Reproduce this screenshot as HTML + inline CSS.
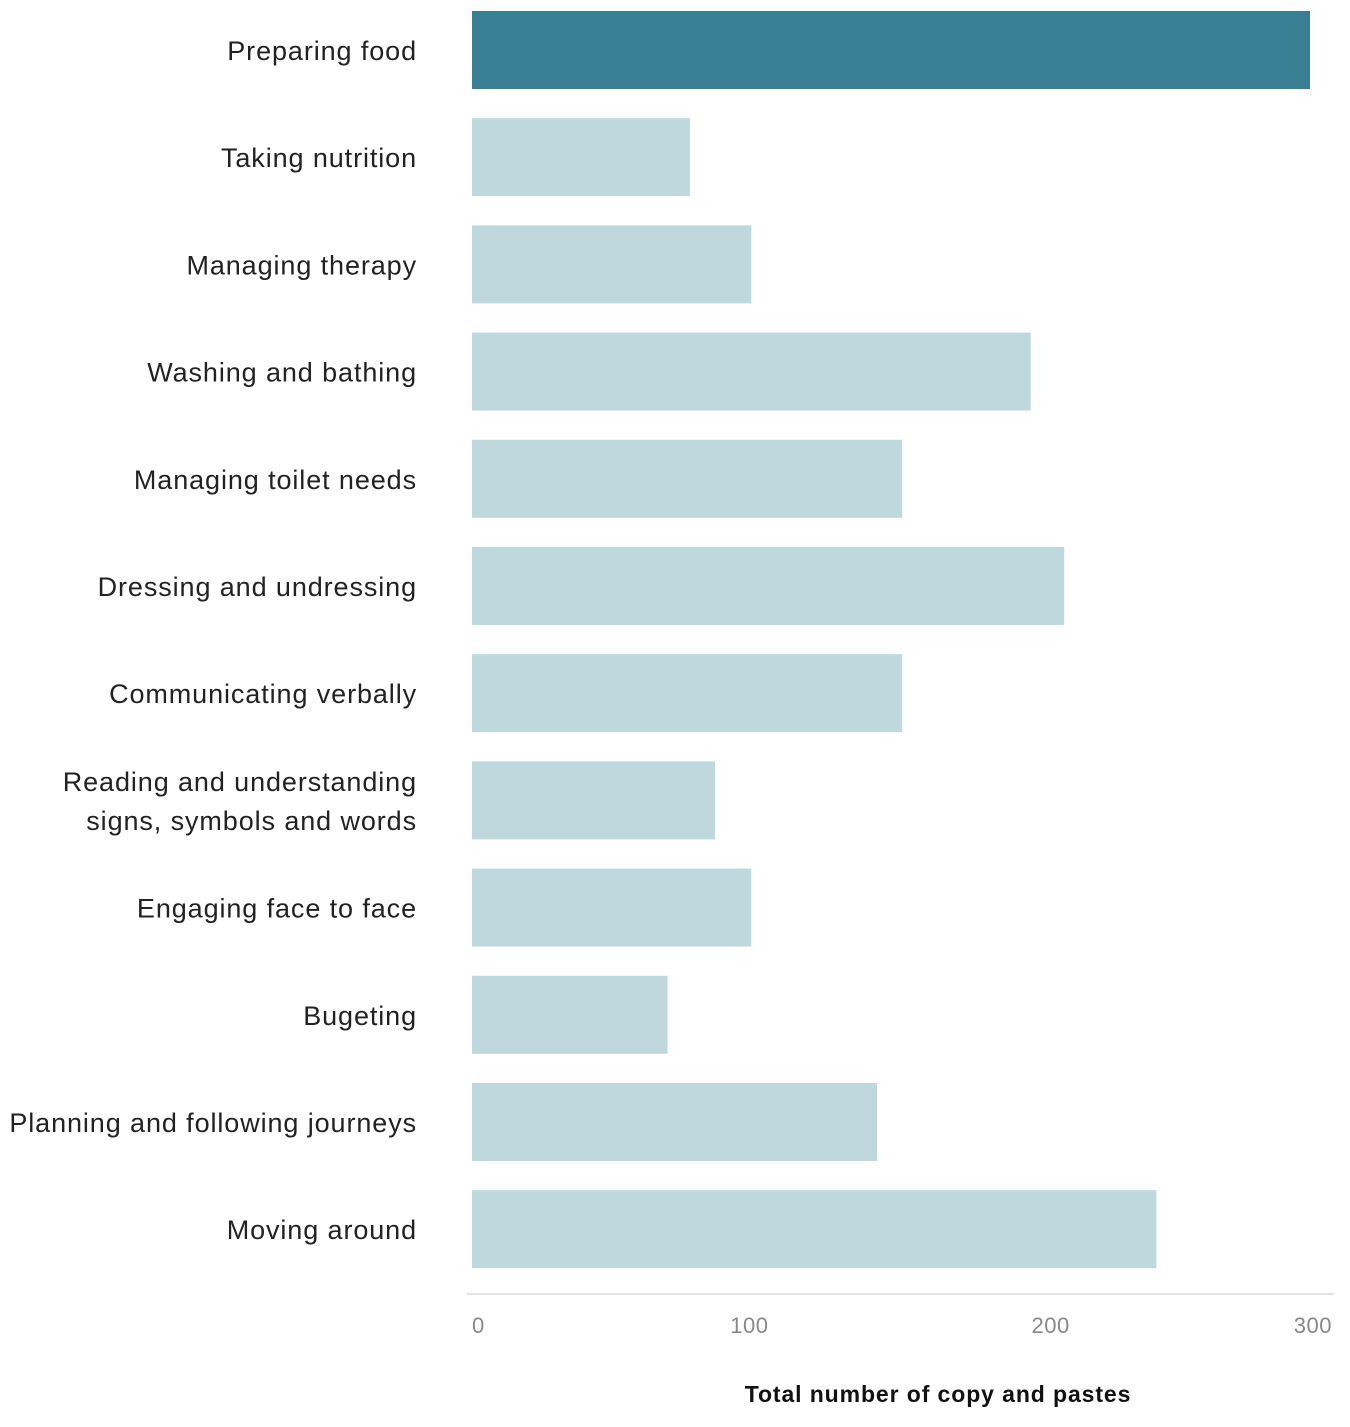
<!DOCTYPE html>
<html><head><meta charset="utf-8"><style>
body{margin:0;background:#fff;font-family:"Liberation Sans",sans-serif}
svg text{font-family:"Liberation Sans",sans-serif}
</style></head><body>
<svg id="chart" width="1350" height="1422" xmlns="http://www.w3.org/2000/svg"></svg>
<script>
const categories=["Preparing food","Taking nutrition","Managing therapy","Washing and bathing","Managing toilet needs","Dressing and undressing","Communicating verbally","Reading and understanding|signs, symbols and words","Engaging face to face","Bugeting","Planning and following journeys","Moving around"];
const values=[300,78,100,200,154,212,154,87,100,70,145,245];
const tickValues=[0,100,200,300];
const tickLabels=["0","100","200","300"];
const svg=document.getElementById('chart');
const NS="http://www.w3.org/2000/svg";
const x0=472,x1=1310,top0=11,step=107.2,bh=78;
const xs=v=>x0+(x1-x0)*v/300;
const yb=i=>top0+i*step;
function mk(t,a){const e=document.createElementNS(NS,t);for(const k in a)e.setAttribute(k,a[k]);svg.appendChild(e);return e;}
categories.forEach((c,i)=>{
  const r=mk('rect',{x:x0,y:yb(i),width:xs(values[i])-x0,height:bh,fill:i===0?'#387f94':'#bed8de'});
  
  
  const lines=c.split('|');
  lines.forEach((l,j)=>{
    const t=mk('text',{x:417,y:yb(i)+bh/2+10+(j-(lines.length-1)/2)*39,'text-anchor':'end','font-size':27,'letter-spacing':0.9,fill:'#222'});
    t.textContent=l;
    
    
  });
});
const ax=mk('line',{x1:467,x2:1334,y1:1294,y2:1294,stroke:'#e3e3e3','stroke-width':2});


tickValues.forEach((v,i)=>{
  const anchor=i===0?'start':(i===tickValues.length-1?'end':'middle');
  const xx=i===0?x0:(i===tickValues.length-1?xs(v)+22:xs(v)+(v===200?20:-2));
  const t=mk('text',{x:xx,y:1333,'text-anchor':anchor,'font-size':22,'letter-spacing':0.5,fill:'#888'});
  t.textContent=tickLabels[i];
  
  
});
const tt=mk('text',{x:938,y:1402,'text-anchor':'middle','font-size':23,'letter-spacing':0.9,'font-weight':'bold',fill:'#111'});
tt.textContent="Total number of copy and pastes";


</script>
</body></html>
